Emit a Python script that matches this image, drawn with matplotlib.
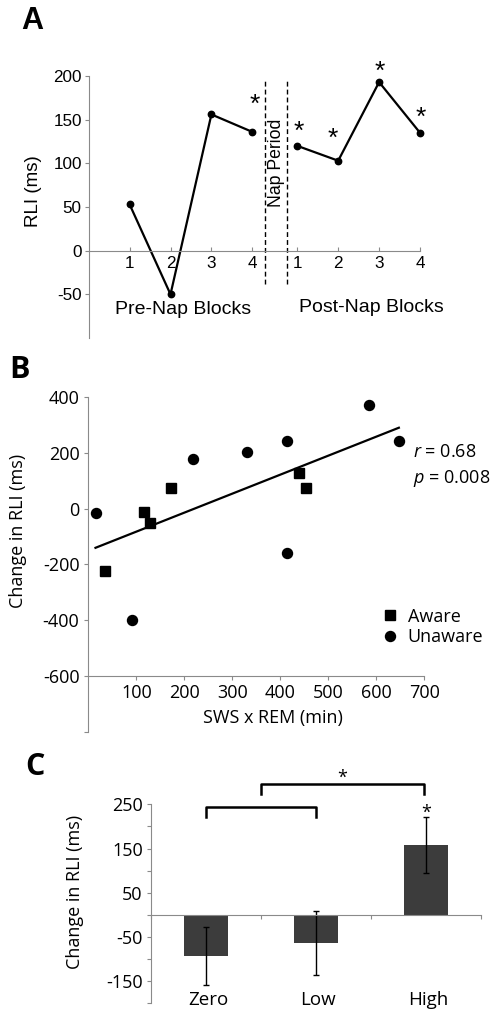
import numpy as np
import matplotlib
matplotlib.use("Agg")
import matplotlib.pyplot as plt

# Panel A: RLI per block
pre_blocks = [1, 2, 3, 4]
post_blocks = [5.1, 6.1, 7.1, 8.1]
block_labels = ["1", "2", "3", "4"]
pre_rli = [53, -50, 156, 136]
post_rli = [120, 103, 193, 135]

# Panel B: change in RLI vs SWS x REM
aware_x = [34, 115, 129, 172, 438, 453]
aware_y = [-224, -11, -51, 73, 129, 75]
unaware_x = [15, 91, 218, 331, 414, 414, 585, 647]
unaware_y = [-15, -400, 178, 205, 243, -158, 371, 243]

# Panel C: group means
groups = ["Zero", "Low", "High"]
means = [-93, -64, 158]
sems = [66, 72, 63]

plt.rcParams["font.family"] = "Open Sans"
plt.rcParams["mathtext.fontset"] = "custom"
plt.rcParams["mathtext.it"] = "Open Sans:italic"
plt.rcParams["mathtext.rm"] = "Open Sans"

W, H = 498, 1015
fig = plt.figure(figsize=(W / 100, H / 100), dpi=100)


def rect(x0, y0, x1, y1):
    # pixel box -> figure fraction
    return [x0 / W, 1 - y1 / H, (x1 - x0) / W, (y1 - y0) / H]


def star(ax, x, y, fs, family):
    ax.annotate("*", (x, y), xytext=(0, -0.58 * fs), textcoords="offset points",
                ha="center", va="baseline", fontsize=fs, family=family,
                annotation_clip=False)


spine_col = "#8a8a8a"

# ---------------- A ----------------
fa = "Liberation Sans"
axA = fig.add_axes(rect(88.7, 76, 420, 338))
axA.plot(pre_blocks, pre_rli, "k-", marker="o", ms=4.6, lw=1.6, clip_on=False)
axA.plot(post_blocks, post_rli, "k-", marker="o", ms=4.6, lw=1.6, clip_on=False)
axA.set_xlim(0, 8.1)
axA.set_ylim(-100, 200)
for s in ["top", "right"]:
    axA.spines[s].set_visible(False)
axA.spines["bottom"].set_position(("data", 0))
axA.spines["left"].set_color(spine_col)
axA.spines["bottom"].set_color(spine_col)
axA.set_xticks(pre_blocks + post_blocks)
axA.set_xticklabels(block_labels + block_labels, family=fa, fontsize=12.3)
axA.set_yticks([-50, 0, 50, 100, 150, 200])
axA.set_yticklabels(["-50", "0", "50", "100", "150", "200"], family=fa, fontsize=12.3)
axA.tick_params(axis="x", direction="in", length=3, pad=4, color=spine_col)
axA.tick_params(axis="y", direction="out", length=3, pad=2, color=spine_col)
axA.set_ylabel("RLI (ms)", family=fa, fontsize=13.5)
axA.yaxis.set_label_coords(-0.141, 0.56)

nap_start, nap_end = 4.3, 4.86
axA.vlines([nap_start, nap_end], -38, 195, colors="k", lw=1, linestyles=(0, (3.5, 2.2)))
axA.text((nap_start + nap_end) / 2, 101, "Nap Period", rotation=90, ha="center",
         va="center", family=fa, fontsize=12.7)
axA.text(2.31, -67, "Pre-Nap Blocks", ha="center", va="center", family=fa, fontsize=14)
axA.text(6.9, -65, "Post-Nap Blocks", ha="center", va="center", family=fa, fontsize=14)
for sx, sy in [(4.05, 176), (5.13, 146), (5.97, 137), (7.11, 214), (8.12, 162)]:
    star(axA, sx, sy, 19, fa)

fig.text(32 / W, 1 - 21 / H, "A", family=fa, weight="bold", fontsize=22,
         ha="center", va="center")

# ---------------- B ----------------
axB = fig.add_axes(rect(88.3, 397.3, 424.3, 731.5))
axB.plot(aware_x, aware_y, "s", color="k", ms=7.8, ls="none", label="Aware", clip_on=False)
axB.plot(unaware_x, unaware_y, "o", color="k", ms=7.2, ls="none", label="Unaware", clip_on=False)
all_x = np.array(aware_x + unaware_x)
all_y = np.array(aware_y + unaware_y)
slope, icpt = np.polyfit(all_x, all_y, 1)
fx = np.array([all_x.min(), all_x.max()])
axB.plot(fx, slope * fx + icpt, "k-", lw=1.6)
axB.set_xlim(0, 700)
axB.set_ylim(-800, 400)
for s in ["top", "right"]:
    axB.spines[s].set_visible(False)
axB.spines["bottom"].set_position(("data", -600))
axB.spines["left"].set_color(spine_col)
axB.spines["bottom"].set_color(spine_col)
axB.set_xticks(range(100, 701, 100))
axB.set_yticks(range(-800, 401, 200))
axB.set_yticklabels([""] + [str(v) for v in range(-600, 401, 200)])
axB.tick_params(labelsize=13, length=3, color=spine_col)
axB.tick_params(axis="y", pad=3.4)
axB.tick_params(axis="x", pad=3)
axB.set_ylabel("Change in RLI (ms)", fontsize=13)
axB.yaxis.set_label_coords(-0.182, 0.6)
axB.text(0.55, 0.04, "SWS x REM (min)", transform=axB.transAxes, ha="center",
         va="center", fontsize=13)
axB.text(676, 205, "$r$ = 0.68", ha="left", va="center", fontsize=13, clip_on=False)
axB.text(676, 109, "$p$ = 0.008", ha="left", va="center", fontsize=13, clip_on=False)
axB.legend(loc="center left", bbox_to_anchor=(0.875, 0.313), frameon=False,
           fontsize=13, handlelength=0.8, handletextpad=0.6, labelspacing=0.15,
           borderpad=0, borderaxespad=0)
fig.text(19 / W, 1 - 370 / H, "B", weight="bold", fontsize=22, ha="center", va="center")

# ---------------- C ----------------
axC = fig.add_axes(rect(151, 804.3, 481, 1003.3))
xpos = np.arange(len(groups))
axC.bar(xpos, means, width=0.4, color="#3c3c3c", yerr=sems,
        error_kw=dict(ecolor="k", elinewidth=1, capsize=2.5, capthick=1))
axC.set_xlim(-0.5, 2.5)
axC.set_ylim(-200, 250)
for s in ["top", "right"]:
    axC.spines[s].set_visible(False)
axC.spines["bottom"].set_position(("data", 0))
axC.spines["left"].set_color(spine_col)
axC.spines["bottom"].set_color(spine_col)
axC.set_xticks([-0.5, 0.5, 1.5, 2.5])
axC.set_xticklabels([])
axC.set_yticks(range(-200, 251, 50))
axC.set_yticklabels(["" if v % 100 == 0 else str(v) for v in range(-200, 251, 50)])
axC.tick_params(labelsize=13, length=3, color=spine_col)
axC.tick_params(axis="y", pad=3)
for i, g in enumerate(groups):
    axC.text(xpos[i] + 0.02, -193, g, ha="center", va="center", fontsize=13.5, clip_on=False)
axC.set_ylabel("Change in RLI (ms)", fontsize=13)
axC.yaxis.set_label_coords(-0.203, 0.561)

axC.plot([0, 0, 1, 1], [222, 243, 243, 222], "k-", lw=1.8, clip_on=False)
axC.plot([0.5, 0.5, 1.98, 1.98], [274, 295, 295, 274], "k-", lw=1.8, clip_on=False)
star(axC, 1.24, 322, 13, "Open Sans")
star(axC, 2.0, 243, 13, "Open Sans")
fig.text(35 / W, 1 - 767 / H, "C", weight="bold", fontsize=22, ha="center", va="center")

fig.savefig("out.png", dpi=100)
